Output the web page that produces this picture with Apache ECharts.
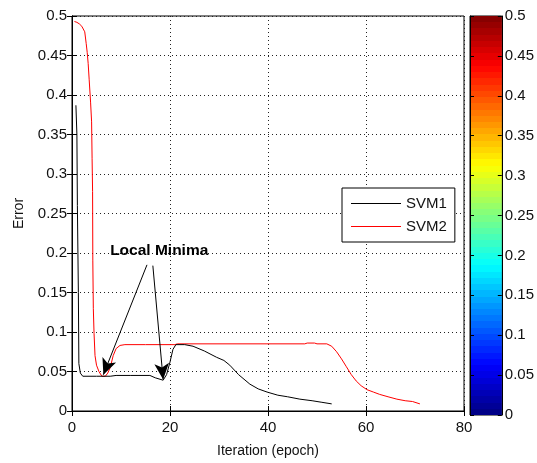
<!DOCTYPE html>
<html><head><meta charset="utf-8">
<script src="https://cdn.jsdelivr.net/npm/echarts@6/dist/echarts.min.js"></script>
<style>html,body{margin:0;padding:0;background:#fff}#c{width:537px;height:463px}</style>
</head><body><div id="c"></div>
<script>
const svm1Iter = [0.8,1.0,1.1,1.3,1.4,1.7,2.2,5,7.8,9,12,15.9,17,18.6,19.3,20,20.6,21.2,23,24.7,27,29.5,31,32.2,34,36.3,38,39.8,42,44,46.5,49,51,53];
const svm1Err  = [0.387,0.35,0.26,0.15,0.06,0.048,0.044,0.044,0.044,0.045,0.045,0.045,0.042,0.039,0.046,0.062,0.078,0.084,0.084,0.082,0.076,0.068,0.064,0.058,0.046,0.034,0.028,0.024,0.02,0.018,0.015,0.013,0.011,0.009];
const svm2Iter = [0.5,1,1.5,2,2.6,2.9,3.1,3.3,3.5,3.8,4.0,4.1,4.2,4.25,4.35,4.5,4.7,5.0,5.5,6.1,6.8,7.3,7.8,8.4,9,9.8,10.8,15,21,21.5,30,40,47.5,48,49.5,50,52,53,54,55,56,57,58,59,60.2,61.5,62.8,64.5,66.3,68,69.5,71];
const svm2Err  = [0.493,0.492,0.49,0.487,0.48,0.465,0.454,0.44,0.42,0.39,0.366,0.32,0.278,0.19,0.13,0.098,0.07,0.058,0.05,0.044,0.044,0.048,0.055,0.07,0.079,0.083,0.084,0.084,0.084,0.085,0.085,0.085,0.085,0.086,0.086,0.085,0.085,0.082,0.075,0.066,0.056,0.046,0.038,0.032,0.027,0.024,0.021,0.018,0.015,0.013,0.012,0.009];
const annotationText = 'Local Minima';
const annotationPos = [17.8, 0.203];
const arrowStarts = [[15.3, 0.185], [16.5, 0.184]];
const arrowEnds   = [[6.4, 0.046], [18.6, 0.040]];
const colorbarMin = 0, colorbarMax = 0.5, colorbarSteps = 64;

function jet(t){
  const c = v => Math.max(0, Math.min(1, v));
  const r = c(1.5 - Math.abs(4*t - 3)), g = c(1.5 - Math.abs(4*t - 2)), b = c(1.5 - Math.abs(4*t - 1));
  return 'rgb(' + Math.round(r*255) + ',' + Math.round(g*255) + ',' + Math.round(b*255) + ')';
}
const zip = (a, b) => a.map((v, i) => [v, b[i]]);
const font = 'Liberation Sans, Arial, sans-serif';
const split = {show: true, lineStyle: {color: '#222', type: [1, 3], width: 1}};

// stepped jet gradient, bottom (offset 1) = low value
const stops = [];
for (let i = 0; i < colorbarSteps; i++) {
  const col = jet((i + 0.5) / colorbarSteps);
  stops.push({offset: 1 - i / colorbarSteps, color: col});
  stops.push({offset: 1 - (i + 1) / colorbarSteps, color: col});
}
stops.reverse();
const cbGradient = new echarts.graphic.LinearGradient(0, 0, 0, 1, stops);

const chart = echarts.init(document.getElementById('c'), null, {renderer: 'canvas'});
chart.setOption({
  animation: false,
  backgroundColor: '#fff',
  textStyle: {fontFamily: font},
  grid: [
    {left: 72, right: 73, top: 16, bottom: 48, show: true, borderColor: '#000', borderWidth: 1},
    {left: 470, right: 33, top: 16, bottom: 48, show: true, borderColor: '#000', borderWidth: 1}
  ],
  legend: {
    data: [{name: 'SVM1', icon: 'rect'}, {name: 'SVM2', icon: 'rect'}],
    orient: 'vertical', left: 342, top: 188,
    width: 115, itemWidth: 50, itemHeight: 1, itemGap: 8,
    padding: [8, 8, 8, 9], borderColor: '#000', borderWidth: 1, backgroundColor: '#fff',
    textStyle: {fontSize: 15, color: '#111', fontFamily: font},
    selectedMode: false
  },
  xAxis: [
    {type: 'value', gridIndex: 0, min: 0, max: 80, interval: 20, position: 'bottom',
     name: 'Iteration (epoch)', nameLocation: 'middle', nameGap: 33,
     nameTextStyle: {fontSize: 14, color: '#111', fontFamily: font},
     axisLine: {show: true, lineStyle: {color: '#000'}},
     axisTick: {show: true, inside: true, length: 5, lineStyle: {color: '#000'}},
     axisLabel: {fontSize: 15, color: '#111', margin: 9, fontFamily: font},
     splitLine: split},
    {type: 'value', gridIndex: 0, min: 0, max: 80, interval: 20, position: 'top',
     axisLine: {show: true, lineStyle: {color: '#000'}},
     axisTick: {show: true, inside: true, length: 5, lineStyle: {color: '#000'}},
     axisLabel: {show: false}, splitLine: {show: false}},
    {type: 'category', gridIndex: 1, data: [''], show: false}
  ],
  yAxis: [
    {type: 'value', gridIndex: 0, min: 0, max: 0.5, interval: 0.05, position: 'left',
     name: 'Error', nameLocation: 'middle', nameGap: 46, nameRotate: 90,
     nameTextStyle: {fontSize: 14, color: '#111', fontFamily: font},
     axisLine: {show: true, lineStyle: {color: '#000'}},
     axisTick: {show: true, inside: true, length: 5, lineStyle: {color: '#000'}},
     axisLabel: {fontSize: 15, color: '#111', margin: 5, fontFamily: font},
     splitLine: split},
    {type: 'value', gridIndex: 0, min: 0, max: 0.5, interval: 0.05, position: 'right',
     axisLine: {show: true, lineStyle: {color: '#000'}},
     axisTick: {show: true, inside: true, length: 5, lineStyle: {color: '#000'}},
     axisLabel: {show: false}, splitLine: {show: false}},
    {type: 'value', gridIndex: 1, min: colorbarMin, max: colorbarMax, interval: 0.05, position: 'right',
     axisLine: {show: true, lineStyle: {color: '#000'}},
     axisTick: {show: true, inside: true, length: 4, lineStyle: {color: '#000'}},
     axisLabel: {fontSize: 15, color: '#111', margin: 3, fontFamily: font},
     splitLine: {show: false}, z: 10},
    {type: 'value', gridIndex: 1, min: colorbarMin, max: colorbarMax, interval: 0.05, position: 'left',
     axisLine: {show: true, lineStyle: {color: '#000'}},
     axisTick: {show: true, inside: true, length: 4, lineStyle: {color: '#000'}},
     axisLabel: {show: false}, splitLine: {show: false}, z: 10}
  ],
  series: [
    {name: 'SVM1', type: 'line', xAxisIndex: 0, yAxisIndex: 0, data: zip(svm1Iter, svm1Err),
     showSymbol: false, symbol: 'none', color: '#000', lineStyle: {color: '#000', width: 1}, silent: true, z: 5,
     markLine: {silent: true, symbol: ['none', 'arrow'], symbolSize: [11, 16], animation: false,
       lineStyle: {color: '#000', width: 1, type: 'solid'}, label: {show: false},
       data: arrowStarts.map((s, i) => [{coord: s}, {coord: arrowEnds[i]}])},
     markPoint: {silent: true, symbol: 'circle', symbolSize: 1, itemStyle: {color: 'rgba(0,0,0,0)'},
       label: {show: true, position: 'inside', formatter: annotationText, color: '#000', fontWeight: 'bold', fontSize: 15.5, fontFamily: font},
       data: [{coord: annotationPos}]}
    },
    {name: 'SVM2', type: 'line', xAxisIndex: 0, yAxisIndex: 0, data: zip(svm2Iter, svm2Err),
     showSymbol: false, symbol: 'none', color: '#ff0000', lineStyle: {color: '#ff0000', width: 1}, silent: true, z: 4},
    {name: 'colorbar', type: 'bar', xAxisIndex: 2, yAxisIndex: 2, silent: true, barWidth: '100%',
     data: [colorbarMax], itemStyle: {color: cbGradient}}
  ]
});
</script></body></html>
